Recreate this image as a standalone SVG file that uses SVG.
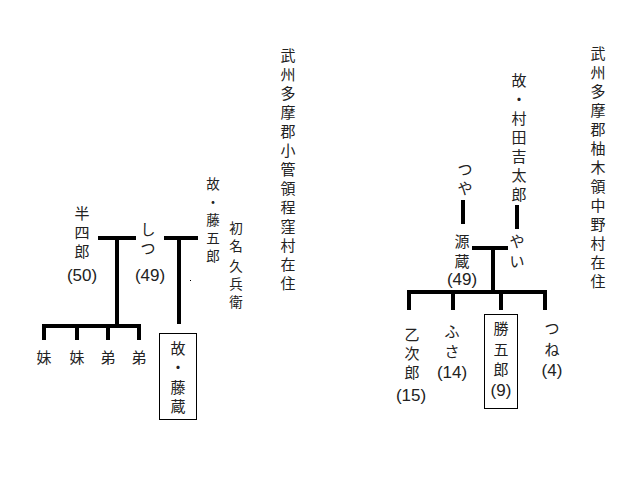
<svg xmlns="http://www.w3.org/2000/svg" width="640" height="480" viewBox="0 0 640 480">
<style>
text{font-family:"Noto Sans CJK JP","Noto Sans",sans-serif;font-size:15px;fill:#222;text-anchor:middle;dominant-baseline:central}
.t{font-size:13.5px}
.n{font-family:"Liberation Sans","Noto Sans CJK JP",sans-serif;font-size:17px}
.bar{stroke:#000;stroke-width:4;fill:none}
.box{fill:#fff;stroke:#000;stroke-width:1}
</style>
<rect width="640" height="480" fill="#fff"/>
<g id="connectors">
<path class="bar" d="M98,238H136M117,238V326M42,326H141M44,326V340M77,326V340M108,326V340M139,326V340"/>
<path class="bar" d="M164,238H198M179,238V324"/>
<rect x="190" y="280" width="1" height="1" fill="#000"/>
<path class="bar" d="M463,200V224M517,205V229M472,248H508M493,248V292M407,292H547M409,292V310M453,292V310M501,292V310M545,292V310"/>
</g>
<g id="loc-left"><text><tspan x="288" y="54">武</tspan><tspan x="288" y="73">州</tspan><tspan x="288" y="92">多</tspan><tspan x="288" y="111">摩</tspan><tspan x="288" y="130">郡</tspan><tspan x="288" y="149">小</tspan><tspan x="288" y="168">管</tspan><tspan x="288" y="187">領</tspan><tspan x="288" y="206">程</tspan><tspan x="288" y="225">窪</tspan><tspan x="288" y="244">村</tspan><tspan x="288" y="263">在</tspan><tspan x="288" y="282">住</tspan></text></g>
<g id="loc-right"><text><tspan x="598" y="52">武</tspan><tspan x="598" y="71">州</tspan><tspan x="598" y="90">多</tspan><tspan x="598" y="109">摩</tspan><tspan x="598" y="128">郡</tspan><tspan x="598" y="147">柚</tspan><tspan x="598" y="166">木</tspan><tspan x="598" y="185">領</tspan><tspan x="598" y="204">中</tspan><tspan x="598" y="223">野</tspan><tspan x="598" y="242">村</tspan><tspan x="598" y="261">在</tspan><tspan x="598" y="280">住</tspan></text></g>
<g id="hanshiro"><text><tspan x="82" y="212">半</tspan><tspan x="82" y="231">四</tspan><tspan x="82" y="250">郎</tspan></text><text class="n" x="82" y="275">(50)</text></g>
<g id="shitsu"><text><tspan x="148" y="228">し</tspan><tspan x="148" y="247">つ</tspan></text><text class="n" x="150" y="275">(49)</text></g>
<g id="togoro"><text class="t"><tspan x="213" y="183">故</tspan><tspan x="213" y="201">・</tspan><tspan x="213" y="219">藤</tspan><tspan x="213" y="237">五</tspan><tspan x="213" y="255">郎</tspan></text></g>
<g id="kyubee"><text class="t"><tspan x="236" y="227">初</tspan><tspan x="236" y="245">名</tspan><tspan x="236" y="265">久</tspan><tspan x="236" y="283">兵</tspan><tspan x="236" y="301">衛</tspan></text></g>
<g id="sib1"><text x="44" y="356">妹</text></g>
<g id="sib2"><text x="77" y="356">妹</text></g>
<g id="sib3"><text x="108" y="356">弟</text></g>
<g id="sib4"><text x="139" y="356">弟</text></g>
<g id="tozo"><rect class="box" x="159.5" y="333.5" width="37" height="86"/><text><tspan x="178" y="347">故</tspan><tspan x="178" y="366">・</tspan><tspan x="178" y="386">藤</tspan><tspan x="178" y="405">蔵</tspan></text></g>
<g id="kichitaro"><text><tspan x="519" y="79">故</tspan><tspan x="519" y="98">・</tspan><tspan x="519" y="117">村</tspan><tspan x="519" y="136">田</tspan><tspan x="519" y="155">吉</tspan><tspan x="519" y="174">太</tspan><tspan x="519" y="193">郎</tspan></text></g>
<g id="tsuya"><text><tspan x="465" y="168">つ</tspan><tspan x="465" y="187">や</tspan></text></g>
<g id="genzo"><text><tspan x="462" y="240">源</tspan><tspan x="462" y="260">蔵</tspan></text><text class="n" x="462" y="279">(49)</text></g>
<g id="yai"><text><tspan x="517" y="240">や</tspan><tspan x="517" y="260">い</tspan></text></g>
<g id="otojiro"><text><tspan x="412" y="333">乙</tspan><tspan x="412" y="352">次</tspan><tspan x="412" y="371">郎</tspan></text><text class="n" x="411" y="395">(15)</text></g>
<g id="fusa"><text><tspan x="452" y="330">ふ</tspan><tspan x="452" y="350">さ</tspan></text><text class="n" x="452" y="372">(14)</text></g>
<g id="katsugoro"><rect class="box" x="484.5" y="314.5" width="33" height="94"/><text><tspan x="501" y="327">勝</tspan><tspan x="501" y="348">五</tspan><tspan x="501" y="368">郎</tspan></text><text class="n" x="501" y="390">(9)</text></g>
<g id="tsune"><text><tspan x="552" y="327">つ</tspan><tspan x="552" y="348">ね</tspan></text><text class="n" x="552" y="370">(4)</text></g>
</svg>
